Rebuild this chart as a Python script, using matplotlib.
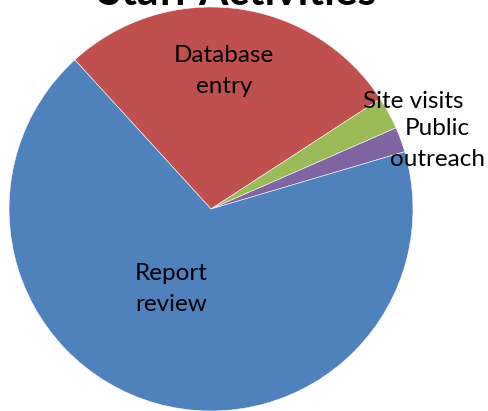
import matplotlib
matplotlib.use("Agg")
import matplotlib.pyplot as plt

categories = ["Database\nentry", "Site visits", "Public\noutreach", "Report\nreview"]
values = [27.6, 2.6, 2.0, 67.8]
colors = ["#C0504D", "#9BBB59", "#8064A2", "#4F81BD"]
title = "Staff Activities"

plt.rcParams['font.family'] = ['Lato', 'DejaVu Sans']

fig = plt.figure(figsize=(4.88, 4.11), dpi=100)
ax = fig.add_axes([0.01844, 0.0, 0.8279, 0.983])
wedges, _ = ax.pie(values, colors=colors, startangle=132.4, counterclock=False,
                   wedgeprops=dict(edgecolor="white", linewidth=0.4))
ax.set_xlim(-1, 1)
ax.set_ylim(-1, 1)
ax.set_aspect("equal")
ax.axis("off")

label_pos = [(0.064, 0.685), (1.0, 0.53), (1.119, 0.32), (-0.198, -0.395)]
for lab, (x, y) in zip(categories, label_pos):
    ax.text(x, y, lab, ha="center", va="center", fontsize=17.5, linespacing=1.6,
            color="black", clip_on=False)

fig.text(237/488, 1 - 5/411, title, ha="center", va="baseline", fontsize=30.5,
         fontweight="bold")

fig.savefig("out.png", dpi=100)
